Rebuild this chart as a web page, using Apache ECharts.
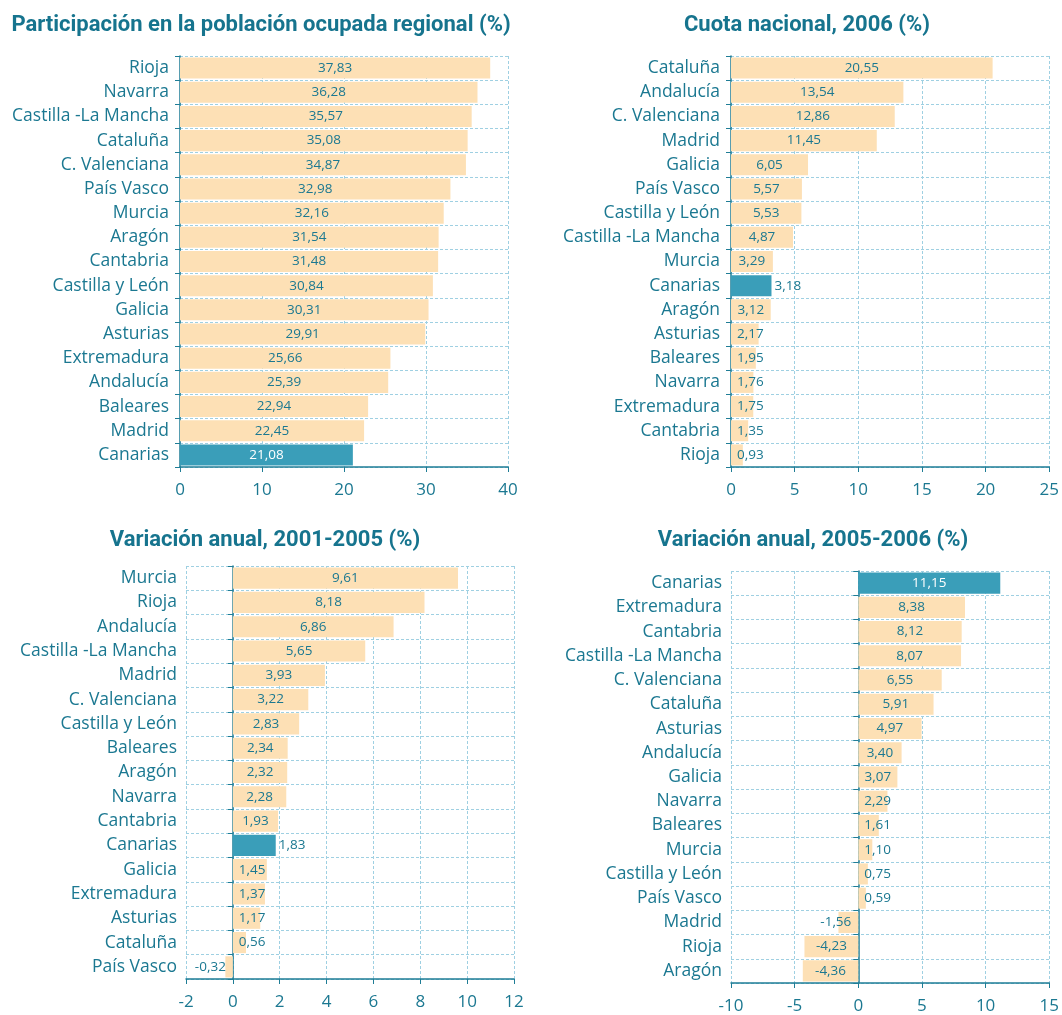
<!DOCTYPE html>
<html>
<head>
<meta charset="utf-8">
<script src="https://cdn.jsdelivr.net/npm/echarts@6/dist/echarts.min.js"></script>
<style>
  html, body { margin: 0; padding: 0; background: #fff; }
  #main { width: 1062px; height: 1015px; }
</style>
</head>
<body>
<div id="main"></div>
<script>
// titulos
let titles = [
  'Participación en la población ocupada regional (%)',
  'Cuota nacional, 2006 (%)',
  'Variación anual, 2001-2005 (%)',
  'Variación anual, 2005-2006 (%)'
];

// participacion en la poblacion ocupada regional
let cat1 = ['Rioja', 'Navarra', 'Castilla -La Mancha', 'Cataluña', 'C. Valenciana', 'País Vasco', 'Murcia', 'Aragón', 'Cantabria', 'Castilla y León', 'Galicia', 'Asturias', 'Extremadura', 'Andalucía', 'Baleares', 'Madrid', 'Canarias'];
let val1 = [37.83, 36.28, 35.57, 35.08, 34.87, 32.98, 32.16, 31.54, 31.48, 30.84, 30.31, 29.91, 25.66, 25.39, 22.94, 22.45, 21.08];

// cuota nacional 2006
let cat2 = ['Cataluña', 'Andalucía', 'C. Valenciana', 'Madrid', 'Galicia', 'País Vasco', 'Castilla y León', 'Castilla -La Mancha', 'Murcia', 'Canarias', 'Aragón', 'Asturias', 'Baleares', 'Navarra', 'Extremadura', 'Cantabria', 'Rioja'];
let val2 = [20.55, 13.54, 12.86, 11.45, 6.05, 5.57, 5.53, 4.87, 3.29, 3.18, 3.12, 2.17, 1.95, 1.76, 1.75, 1.35, 0.93];

// variacion anual 2001-2005
let cat3 = ['Murcia', 'Rioja', 'Andalucía', 'Castilla -La Mancha', 'Madrid', 'C. Valenciana', 'Castilla y León', 'Baleares', 'Aragón', 'Navarra', 'Cantabria', 'Canarias', 'Galicia', 'Extremadura', 'Asturias', 'Cataluña', 'País Vasco'];
let val3 = [9.61, 8.18, 6.86, 5.65, 3.93, 3.22, 2.83, 2.34, 2.32, 2.28, 1.93, 1.83, 1.45, 1.37, 1.17, 0.56, -0.32];

// variacion anual 2005-2006
let cat4 = ['Canarias', 'Extremadura', 'Cantabria', 'Castilla -La Mancha', 'C. Valenciana', 'Cataluña', 'Asturias', 'Andalucía', 'Galicia', 'Navarra', 'Baleares', 'Murcia', 'Castilla y León', 'País Vasco', 'Madrid', 'Rioja', 'Aragón'];
let val4 = [11.15, 8.38, 8.12, 8.07, 6.55, 5.91, 4.97, 3.40, 3.07, 2.29, 1.61, 1.10, 0.75, 0.59, -1.56, -4.23, -4.36];

// ejes de valores: min, max, intervalo
let axis1 = [0, 40, 10];
let axis2 = [0, 25, 5];
let axis3 = [-2, 12, 2];
let axis4 = [-10, 15, 5];

const TEXT = '#1b7891';
const PEACH = '#fde0b5';
const TEAL = '#3a9eb9';
const GRID = '#9fd0e2';
const AXIS = '#1f7d96';
const FONT = "'Open Sans', 'Noto Sans', sans-serif";
const TITLE_FONT = "Roboto, 'Open Sans', sans-serif";

let fmt = v => v.toFixed(2).replace('.', ',');

// posiciones de cada grafico
let grids = [
  { left: 180, right: 554, top: 56, height: 411 },
  { left: 731, right: 10, top: 56, height: 411 },
  { left: 186, right: 548, top: 566, height: 413 },
  { left: 731, right: 9, top: 571, height: 412 }
];
let titlePos = [[256, 9], [802, 9], [260, 524], [808, 524]];
// Canarias: etiqueta dentro (blanca) o fuera a la derecha
let canariasOutside = [false, true, true, false];

let option = {
  backgroundColor: '#ffffff',
  animation: false,
  title: [],
  grid: [],
  xAxis: [],
  yAxis: [],
  series: []
};

let charts = [[cat1, val1, axis1], [cat2, val2, axis2], [cat3, val3, axis3], [cat4, val4, axis4]];

charts.forEach((c, i) => {
  let cats = c[0], vals = c[1], ax = c[2];
  let range = ax[1] - ax[0];
  let hasNeg = ax[0] < 0;

  option.title.push({
    text: titles[i],
    left: titlePos[i][0],
    top: titlePos[i][1],
    textAlign: 'center',
    textStyle: { color: '#16748e', fontFamily: TITLE_FONT, fontWeight: 'bold', fontSize: 22 }
  });

  option.grid.push(Object.assign({ containLabel: false }, grids[i]));

  option.xAxis.push({
    type: 'value',
    gridIndex: i,
    min: ax[0],
    max: ax[1],
    interval: ax[2],
    axisLine: { show: true, lineStyle: { color: AXIS, width: 1.5 } },
    axisTick: { show: true, length: 5, lineStyle: { color: AXIS } },
    axisLabel: { color: TEXT, fontFamily: FONT, fontSize: 17, margin: 15 },
    splitLine: { show: true, lineStyle: { color: GRID, type: [3, 2], width: 1 } }
  });

  // eje de categorias con etiquetas
  option.yAxis.push({
    type: 'category',
    gridIndex: i,
    data: cats,
    inverse: true,
    axisLine: { show: !hasNeg, onZero: false, lineStyle: { color: AXIS, width: 1.5 } },
    axisTick: { show: !hasNeg, length: 5, lineStyle: { color: AXIS } },
    axisLabel: { color: TEXT, fontFamily: FONT, fontSize: 17.5, margin: hasNeg ? 9 : 11 },
    splitLine: { show: true, lineStyle: { color: GRID, type: [3, 2], width: 1 } }
  });
  let yIndex = option.yAxis.length - 1;

  // linea del cero para los graficos con negativos
  if (hasNeg) {
    option.yAxis.push({
      type: 'category',
      gridIndex: i,
      data: cats,
      inverse: true,
      position: 'left',
      axisLine: { show: true, onZero: true, lineStyle: { color: AXIS, width: 1.5 } },
      axisTick: { show: true, length: 5, lineStyle: { color: AXIS } },
      axisLabel: { show: false },
      splitLine: { show: false }
    });
  }

  let data = vals.map((v, k) => {
    let isCan = cats[k] === 'Canarias';
    let small = Math.abs(v) / range < 0.12;
    let label = { position: 'inside' };
    if (small) {
      label = v < 0 ? { position: 'insideRight', distance: 7 } : { position: 'insideLeft', distance: 6 };
    }
    if (isCan) {
      label = canariasOutside[i]
        ? { position: 'right', distance: 3, color: TEXT }
        : { position: 'inside', color: '#ffffff' };
    }
    return {
      value: v,
      itemStyle: { color: isCan ? TEAL : PEACH },
      label: label
    };
  });

  option.series.push({
    type: 'bar',
    xAxisIndex: i,
    yAxisIndex: yIndex,
    barWidth: '87%',
    data: data,
    label: {
      show: true,
      color: TEXT,
      fontFamily: FONT,
      fontSize: 13.5,
      formatter: p => fmt(p.value)
    },
    z: 1
  });
});

let chart = echarts.init(document.getElementById('main'), null, { renderer: 'canvas' });
chart.setOption(option);
</script>
</body>
</html>
